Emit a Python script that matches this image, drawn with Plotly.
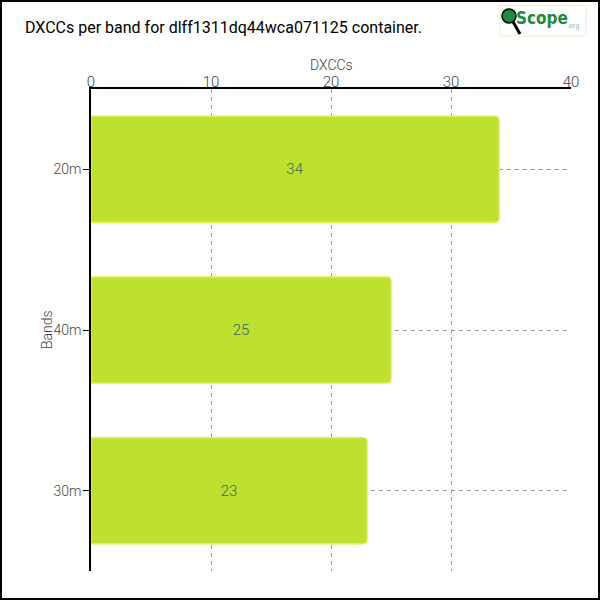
import plotly.graph_objects as go

bands = ["20m", "40m", "30m"]
dxccs = [34, 25, 23]
x_ticks = [0, 10, 20, 30, 40]

title = "DXCCs per band for dlff1311dq44wca071125 container."

# plot area: x 91..571, y 89..571
L, R, T, B = 91, 29, 89, 29
pw, ph = 600 - L - R, 600 - T - B


def px(x):
    return (x - L) / pw


def py(y):
    return 1 - (y - T) / ph


fig = go.Figure()

fig.add_trace(go.Bar(
    y=bands,
    x=dxccs,
    orientation="h",
    width=0.66,
    marker=dict(color="#bee130", line=dict(color="#d8f24e", width=1.5), cornerradius=4),
    text=dxccs,
    textposition="inside",
    insidetextanchor="middle",
    textfont=dict(color="#3f6358", size=15, family="Roboto", weight=300),
    showlegend=False,
))

# figure border
fig.add_shape(type="rect", xref="paper", yref="paper",
              x0=px(1), x1=px(599), y0=py(599), y1=py(1),
              line=dict(color="black", width=2), layer="above")

# logo
fig.add_shape(type="rect", xref="paper", yref="paper",
              x0=px(500), x1=px(586), y0=py(36), y1=py(5),
              line=dict(color="#eef2c8", width=1), fillcolor="white")
fig.add_shape(type="line", xref="paper", yref="paper",
              x0=px(512), x1=px(520), y0=py(20), y1=py(34),
              line=dict(color="black", width=3))
fig.add_shape(type="circle", xref="paper", yref="paper",
              x0=px(502), x1=px(516), y0=py(23), y1=py(9),
              line=dict(color="black", width=1.5), fillcolor="#1e8a3c")
fig.add_annotation(xref="paper", yref="paper", x=px(514), y=py(18),
                   text="Scope", showarrow=False, xanchor="left", yanchor="middle",
                   font=dict(family="DejaVu Sans Condensed", size=17, color="#1e8a3c", weight="bold"))
fig.add_annotation(xref="paper", yref="paper", x=px(565), y=py(26),
                   text=".org", showarrow=False, xanchor="left", yanchor="middle",
                   font=dict(family="Roboto", size=7, color="#8cbf8c"))

# axis titles
fig.add_annotation(xref="paper", yref="paper", x=0.5, y=py(65),
                   text="DXCCs", showarrow=False, xanchor="center", yanchor="middle",
                   font=dict(family="Roboto", size=14, color="#444", weight=300))
fig.add_annotation(xref="paper", yref="paper", x=px(47), y=0.5,
                   text="Bands", showarrow=False, textangle=-90, xanchor="center", yanchor="middle",
                   font=dict(family="Roboto", size=14, color="#444", weight=300))

fig.update_layout(
    width=600, height=600,
    margin=dict(l=L, r=R, t=T, b=B),
    plot_bgcolor="white",
    paper_bgcolor="white",
    font=dict(family="Roboto", color="#444"),
    title=dict(text=title, x=25 / 600, xanchor="left", y=1 - 27 / 600, yanchor="middle",
               font=dict(family="Roboto", size=16, color="black")),
    xaxis=dict(
        side="top", range=[0, 40], tickvals=x_ticks,
        tickfont=dict(size=15, weight=300),
        showline=True, linecolor="black", linewidth=1.5,
        showgrid=True, gridcolor="#999", griddash="4px,4px", gridwidth=1,
        zeroline=False, ticks="", ticklabelstandoff=-6,
    ),
    yaxis=dict(
        autorange="reversed",
        tickfont=dict(size=14, weight=300),
        showline=True, linecolor="black", linewidth=1.5,
        showgrid=True, gridcolor="#999", griddash="4px,4px", gridwidth=1,
        ticks="outside", ticklen=6, tickcolor="black", ticklabelstandoff=-1,
    ),
    bargap=0.34,
)

fig.write_html("out.html", config={"displayModeBar": False},
               post_script="document.body.style.margin='0';")
